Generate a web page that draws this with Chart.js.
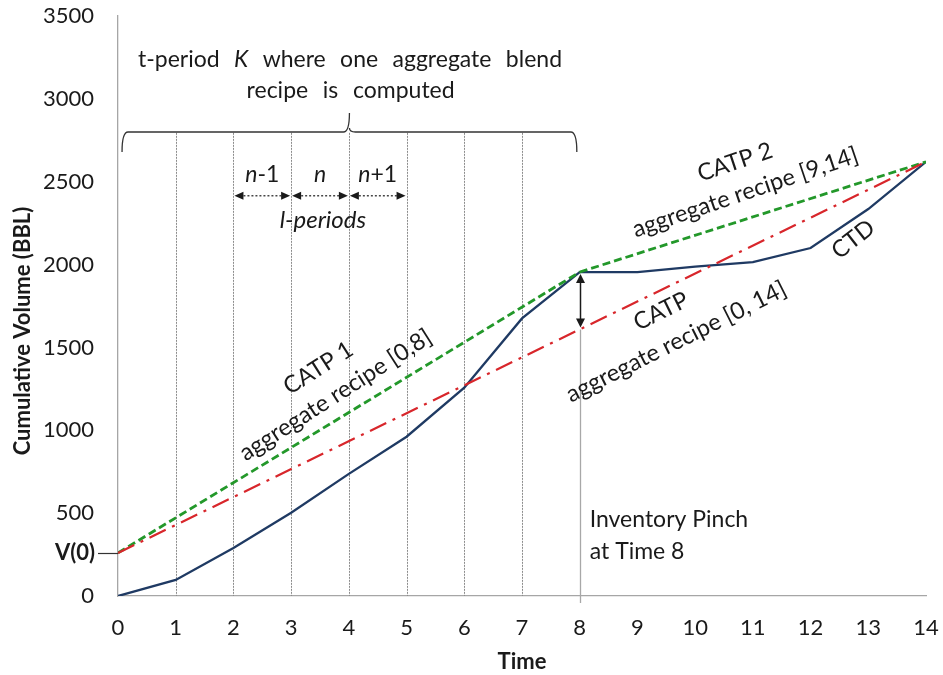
<!DOCTYPE html>
<html>
<head>
<meta charset="utf-8">
<script src="https://cdn.jsdelivr.net/npm/chart.js@4.4.1/dist/chart.umd.min.js"></script>
<style>
  html, body { margin: 0; padding: 0; background: #fff; }
  canvas { display: block; }
</style>
</head>
<body>
<canvas id="chart" width="943" height="675"></canvas>
<script>
// cumulative tank demand (CTD) per time period
const times = [0, 1, 2, 3, 4, 5, 6, 7, 8, 9, 10, 11, 12, 13, 14];
const ctdVolumes = [0, 97, 290, 502, 737, 961, 1257, 1675, 1955, 1955, 1988, 2015, 2100, 2335, 2620];

// aggregate production lines (start / end points)
const catp1Times = [0, 8];
const catp1Volumes = [260, 1955];
const catp2Times = [8, 14];
const catp2Volumes = [1955, 2620];
const catpTimes = [0, 14];
const catpVolumes = [260, 2620];

const vZero = catp1Volumes[0];
const pinchTime = 8;
const periodLines = [1, 2, 3, 4, 5, 6, 7];
const lPeriodTimes = [2, 3, 4, 5];
const lPeriodLabels = [['n', '-1'], ['n', ''], ['n', '+1']];

const FONT = 'Lato, "Open Sans", sans-serif';
const INK = '#1a1a1a';
const NAVY = '#1f3a63';
const GREEN = '#23982a';
const RED = '#d8262b';

const toPoints = (xs, ys) => xs.map((x, i) => ({ x, y: ys[i] }));

function arrowHead(ctx, x, y, angle, len, half) {
  ctx.save();
  ctx.translate(x, y);
  ctx.rotate(angle);
  ctx.beginPath();
  ctx.moveTo(0, 0);
  ctx.lineTo(-len, -half);
  ctx.lineTo(-len, half);
  ctx.closePath();
  ctx.fill();
  ctx.restore();
}

// words spread evenly over a fixed width, like justified text
function spreadWords(ctx, words, cx, y, width, size) {
  const fontOf = w => (w.italic ? 'italic ' : '') + size + 'px ' + FONT;
  let sum = 0;
  words.forEach(w => { ctx.font = fontOf(w); w.width = ctx.measureText(w.text).width; sum += w.width; });
  const gap = (width - sum) / (words.length - 1);
  let x = cx - width / 2;
  ctx.textAlign = 'left';
  words.forEach(w => {
    ctx.font = fontOf(w);
    ctx.fillText(w.text, x, y);
    x += w.width + gap;
  });
}

function rotatedLabel(ctx, lines, cx, cy, deg, gap, size) {
  ctx.save();
  ctx.translate(cx, cy);
  ctx.rotate(deg * Math.PI / 180);
  ctx.font = size + 'px ' + FONT;
  ctx.textAlign = 'center';
  ctx.textBaseline = 'middle';
  lines.forEach((s, i) => ctx.fillText(s, 0, (i - (lines.length - 1) / 2) * gap));
  ctx.restore();
}

const guides = {
  id: 'guides',
  beforeDatasetsDraw(chart) {
    const { ctx, scales: { x, y } } = chart;
    ctx.save();
    // period boundaries
    ctx.strokeStyle = '#8c8c8c';
    ctx.lineWidth = 1;
    ctx.setLineDash([2, 1]);
    periodLines.forEach(t => {
      const px = Math.round(x.getPixelForValue(t)) + 0.5;
      ctx.beginPath();
      ctx.moveTo(px, y.getPixelForValue(2795));
      ctx.lineTo(px, y.getPixelForValue(0));
      ctx.stroke();
    });
    // pinch marker
    const catpAt8 = catpVolumes[0] + (catpVolumes[1] - catpVolumes[0]) * pinchTime / catpTimes[1];
    const p8 = Math.round(x.getPixelForValue(pinchTime)) + 0.5;
    ctx.setLineDash([]);
    ctx.strokeStyle = '#a8a8a8';
    ctx.lineWidth = 1.3;
    ctx.beginPath();
    ctx.moveTo(p8, y.getPixelForValue(catpAt8));
    ctx.lineTo(p8, y.getPixelForValue(0) + 7);
    ctx.stroke();
    ctx.restore();
  },
  afterDatasetsDraw(chart) {
    const { ctx, scales: { x, y } } = chart;
    const px = t => x.getPixelForValue(t);
    const py = v => y.getPixelForValue(v);
    ctx.save();
    ctx.fillStyle = INK;
    ctx.strokeStyle = INK;
    ctx.textBaseline = 'middle';

    // brace over t-period K
    const x0 = px(0.07), x1 = px(7.95), xm = px(4.01);
    const yTop = py(2800), yEnd = py(2680), yPeak = py(2915), r = 6;
    ctx.strokeStyle = '#333';
    ctx.lineWidth = 1.3;
    ctx.beginPath();
    ctx.moveTo(x0, yEnd);
    ctx.quadraticCurveTo(x0, yTop, x0 + r, yTop);
    ctx.lineTo(xm - r, yTop);
    ctx.quadraticCurveTo(xm, yTop, xm, yPeak);
    ctx.moveTo(xm, yTop - 4);
    ctx.quadraticCurveTo(xm, yTop, xm + r, yTop);
    ctx.lineTo(x1 - r, yTop);
    ctx.quadraticCurveTo(x1, yTop, x1, yEnd);
    ctx.stroke();

    spreadWords(ctx, [
      { text: 't-period' }, { text: 'K', italic: true }, { text: 'where' },
      { text: 'one' }, { text: 'aggregate' }, { text: 'blend' }
    ], px(4.02), py(3240), 424, 23);
    spreadWords(ctx, [{ text: 'recipe' }, { text: 'is' }, { text: 'computed' }],
      px(4.03), py(3047), 208, 23);

    // l-period arrows
    ctx.strokeStyle = INK;
    ctx.lineWidth = 1.2;
    const ay = py(2415);
    for (let i = 0; i < lPeriodTimes.length - 1; i++) {
      const a = px(lPeriodTimes[i]), b = px(lPeriodTimes[i + 1]);
      ctx.setLineDash([2, 2]);
      ctx.beginPath();
      ctx.moveTo(a + 6, ay);
      ctx.lineTo(b - 6, ay);
      ctx.stroke();
      ctx.setLineDash([]);
      arrowHead(ctx, a + 1, ay, Math.PI, 9, 4);
      arrowHead(ctx, b - 1, ay, 0, 9, 4);

      const [it, up] = lPeriodLabels[i];
      ctx.font = 'italic 23px ' + FONT;
      const w1 = ctx.measureText(it).width;
      ctx.font = '23px ' + FONT;
      const w2 = ctx.measureText(up).width;
      let lx = (a + b) / 2 - (w1 + w2) / 2;
      ctx.textAlign = 'left';
      ctx.font = 'italic 23px ' + FONT;
      ctx.fillText(it, lx, py(2545));
      ctx.font = '23px ' + FONT;
      ctx.fillText(up, lx + w1, py(2545));
    }
    ctx.font = 'italic 24px ' + FONT;
    ctx.textAlign = 'center';
    ctx.fillText('l-periods', px(3.55), py(2265));

    // gap between CTD and CATP at the pinch
    const catpAt8 = catpVolumes[0] + (catpVolumes[1] - catpVolumes[0]) * pinchTime / catpTimes[1];
    const p8 = Math.round(px(pinchTime)) + 0.5;
    const yHi = py(ctdVolumes[times.indexOf(pinchTime)]) + 2, yLo = py(catpAt8) - 2;
    ctx.lineWidth = 1.5;
    ctx.beginPath();
    ctx.moveTo(p8, yHi + 6);
    ctx.lineTo(p8, yLo - 6);
    ctx.stroke();
    arrowHead(ctx, p8, yHi, -Math.PI / 2, 9, 4.5);
    arrowHead(ctx, p8, yLo, Math.PI / 2, 9, 4.5);

    // line labels
    rotatedLabel(ctx, ['CATP 1', 'aggregate recipe [0,8]'], px(3.62), py(1294), -32.6, 32, 23.5);
    rotatedLabel(ctx, ['CATP 2', 'aggregate recipe [9,14]'], px(10.78), py(2527), -18.7, 32, 23.5);
    rotatedLabel(ctx, ['CATP', 'aggregate recipe [0, 14]'], px(9.54), py(1626), -26.5, 34, 23.5);
    rotatedLabel(ctx, ['CTD'], px(12.74), py(2152), -38, 0, 23.5);

    ctx.font = '23px ' + FONT;
    ctx.textAlign = 'left';
    ctx.fillText('Inventory Pinch', px(pinchTime) + 10, py(459));
    ctx.fillText('at Time 8', px(pinchTime) + 10, py(266));

    // V(0) marker on the y axis
    const yv = py(vZero);
    ctx.font = 'bold 22px ' + FONT;
    ctx.textAlign = 'right';
    ctx.fillText('V(0)', 95, yv);
    ctx.strokeStyle = '#333';
    ctx.lineWidth = 1.2;
    ctx.beginPath();
    ctx.moveTo(98, Math.round(yv) + 0.5);
    ctx.lineTo(px(0), Math.round(yv) + 0.5);
    ctx.stroke();

    // axis titles
    ctx.font = 'bold 22px ' + FONT;
    ctx.textAlign = 'center';
    ctx.fillText('Time', px(7), 662);
    ctx.save();
    ctx.translate(23, 331);
    ctx.rotate(-Math.PI / 2);
    ctx.fillText('Cumulative Volume (BBL)', 0, 0);
    ctx.restore();

    ctx.restore();
  }
};

const tickFont = { family: FONT, size: 22 };
const plainTick = v => String(v);

new Chart(document.getElementById('chart'), {
  type: 'line',
  data: {
    datasets: [
      { label: 'CATP', data: toPoints(catpTimes, catpVolumes), borderColor: RED, borderWidth: 2.2, borderDash: [18, 7, 3, 7] },
      { label: 'CATP 1', data: toPoints(catp1Times, catp1Volumes), borderColor: GREEN, borderWidth: 2.8, borderDash: [8, 4] },
      { label: 'CATP 2', data: toPoints(catp2Times, catp2Volumes), borderColor: GREEN, borderWidth: 2.8, borderDash: [8, 4] },
      { label: 'CTD', data: toPoints(times, ctdVolumes), borderColor: NAVY, borderWidth: 2.3 }
    ]
  },
  options: {
    responsive: false,
    animation: false,
    devicePixelRatio: 1,
    layout: { padding: { top: 16, right: 17, left: 0, bottom: 0 } },
    elements: { point: { radius: 0 }, line: { tension: 0, fill: false } },
    plugins: { legend: { display: false }, tooltip: { enabled: false } },
    scales: {
      x: {
        type: 'linear', min: 0, max: 14,
        ticks: { stepSize: 1, color: INK, font: tickFont, padding: 19, callback: plainTick },
        grid: { display: false, drawTicks: false },
        border: { color: '#a6a6a6', width: 1.3 },
        afterFit: s => { s.height = 79; s.paddingLeft = 0; s.paddingRight = 0; }
      },
      y: {
        min: 0, max: 3500,
        ticks: { stepSize: 500, color: INK, font: tickFont, padding: 24, callback: plainTick },
        grid: { display: false, drawTicks: false },
        border: { color: '#a6a6a6', width: 1.3 },
        afterFit: s => { s.width = 118; s.paddingTop = 0; s.paddingBottom = 0; }
      }
    }
  },
  plugins: [guides]
});
</script>
</body>
</html>
